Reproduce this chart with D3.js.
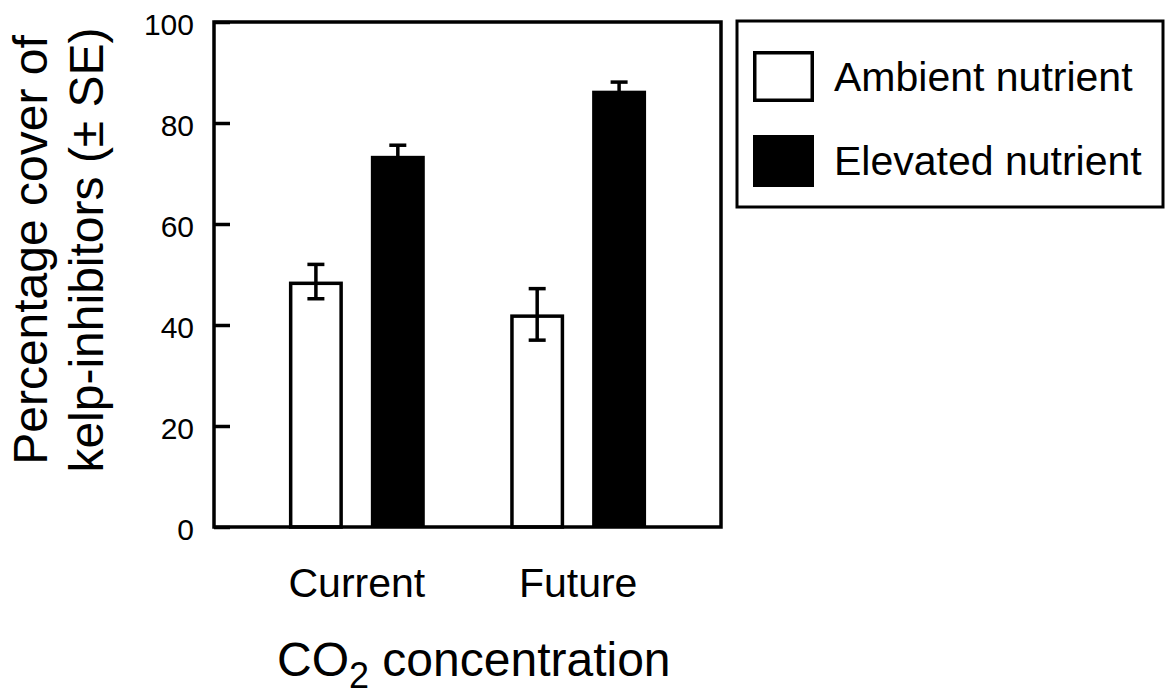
<!DOCTYPE html>
<html lang="en">

<head>
  <meta charset="utf-8">
  <title>Kelp inhibitors</title>
  <style>
    body {
      margin: 0;
      background: #fff;
    }

    svg text {
      font-family: "Liberation Sans", Arial, sans-serif;
      fill: #000;
    }

    .axis path {
      display: none;
    }

    .axis line {
      stroke: #000;
      stroke-width: 3.5;
    }
  </style>
</head>

<body>
  <div id="chart"></div>
</body>
<script src="https://d3js.org/d3.v7.min.js"></script>

<script>

  // data
  let co2Levels = ["Current", "Future"];
  let nutrients = ["Ambient nutrient", "Elevated nutrient"];
  let ambientMean = [48.6, 42.1];
  let ambientSE = [3.4, 5.1];
  let elevatedMean = [73.5, 86.4];
  let elevatedSE = [2.1, 1.7];
  let yTicks = [0, 20, 40, 60, 80, 100];

  let W = 1165, H = 695;
  let plotL = 214, plotR = 721, plotT = 22, plotB = 527;

  let svg = d3.select("#chart")
    .append("svg")
    .attr("width", W)
    .attr("height", H);

  let y = d3.scaleLinear().domain([0, 100]).range([plotB, plotT]);

  let x0 = d3.scaleBand()
    .domain(co2Levels)
    .range([plotL, plotR])
    .paddingInner(0.2596)
    .paddingOuter(0.2754);

  let x1 = d3.scaleBand()
    .domain(nutrients)
    .range([0, x0.bandwidth()])
    .paddingInner(0.3415)
    .paddingOuter(0.1707);

  let fills = { "Ambient nutrient": "#fff", "Elevated nutrient": "#000" };

  let rows = [];
  co2Levels.forEach((c, i) => {
    rows.push({ co2: c, nut: nutrients[0], mean: ambientMean[i], se: ambientSE[i] });
    rows.push({ co2: c, nut: nutrients[1], mean: elevatedMean[i], se: elevatedSE[i] });
  });

  // y axis, ticks pointing inward
  svg.append("g")
    .attr("class", "axis")
    .attr("transform", "translate(" + plotL + ",0)")
    .call(d3.axisLeft(y).tickValues(yTicks).tickSizeInner(-16).tickSizeOuter(0).tickPadding(20))
    .selectAll("text")
    .style("font-size", "30px")
    .attr("dy", "0.4em");

  let sw = 3.5;

  // bars
  svg.selectAll(".bar")
    .data(rows)
    .enter()
    .append("rect")
    .attr("class", "bar")
    .attr("x", (d) => {
      return x0(d.co2) + x1(d.nut) + (d.nut == nutrients[0] ? sw / 2 : 0)
    })
    .attr("width", (d) => { return x1.bandwidth() - (d.nut == nutrients[0] ? sw : 0) })
    .attr("y", (d) => { return y(d.mean) + (d.nut == nutrients[0] ? sw / 2 : 0) })
    .attr("height", (d) => { return y(0) - y(d.mean) - (d.nut == nutrients[0] ? sw / 2 : 0) })
    .attr("fill", (d) => { return fills[d.nut] })
    .attr("stroke", (d) => { return d.nut == nutrients[0] ? "#000" : "none" })
    .attr("stroke-width", sw);

  // error bars
  let capW = 17;
  let err = svg.selectAll(".err")
    .data(rows)
    .enter()
    .append("g")
    .attr("class", "err")
    .attr("stroke", "#000")
    .attr("stroke-width", 3.5);

  let cx = (d) => { return x0(d.co2) + x1(d.nut) + x1.bandwidth() / 2 };

  err.append("line")
    .attr("x1", cx).attr("x2", cx)
    .attr("y1", (d) => { return y(d.mean - d.se) })
    .attr("y2", (d) => { return y(d.mean + d.se) });

  err.append("line")
    .attr("x1", (d) => { return cx(d) - capW / 2 })
    .attr("x2", (d) => { return cx(d) + capW / 2 })
    .attr("y1", (d) => { return y(d.mean + d.se) })
    .attr("y2", (d) => { return y(d.mean + d.se) });

  err.append("line")
    .attr("x1", (d) => { return cx(d) - capW / 2 })
    .attr("x2", (d) => { return cx(d) + capW / 2 })
    .attr("y1", (d) => { return y(d.mean - d.se) })
    .attr("y2", (d) => { return y(d.mean - d.se) });

  // frame
  svg.append("rect")
    .attr("x", plotL)
    .attr("y", plotT)
    .attr("width", plotR - plotL)
    .attr("height", plotB - plotT)
    .attr("fill", "none")
    .attr("stroke", "#000")
    .attr("stroke-width", 3.5);

  // category labels
  svg.selectAll(".cat")
    .data(co2Levels)
    .enter()
    .append("text")
    .attr("class", "cat")
    .attr("x", (d) => { return x0(d) + x0.bandwidth() / 2 })
    .attr("y", 597)
    .attr("text-anchor", "middle")
    .style("font-size", "41px")
    .text((d) => { return d });

  // x title
  let xt = svg.append("text")
    .attr("x", 277)
    .attr("y", 676)
    .style("font-size", "48px");
  xt.append("tspan").text("CO");
  xt.append("tspan").attr("dy", 12).style("font-size", "36px").text("2");
  xt.append("tspan").attr("dy", -12).text(" concentration");

  // y title
  let yt = svg.append("text")
    .attr("transform", "translate(47,250) rotate(-90)")
    .attr("text-anchor", "middle")
    .style("font-size", "48px");
  yt.append("tspan").attr("x", 0).attr("y", 0).text("Percentage cover of");
  yt.append("tspan").attr("x", 0).attr("y", 56).text("kelp-inhibitors (\u00B1 SE)");

  // legend
  svg.append("rect")
    .attr("x", 737)
    .attr("y", 21)
    .attr("width", 426)
    .attr("height", 186)
    .attr("fill", "none")
    .attr("stroke", "#000")
    .attr("stroke-width", 3);

  let leg = svg.selectAll(".leg")
    .data(nutrients)
    .enter()
    .append("g")
    .attr("class", "leg")
    .attr("transform", (d, i) => { return "translate(753," + (51 + i * 84) + ")" });

  leg.append("rect")
    .attr("x", (d, i) => { return i == 0 ? sw / 2 : 0 })
    .attr("y", (d, i) => { return i == 0 ? sw / 2 : 0 })
    .attr("width", (d, i) => { return i == 0 ? 61 - sw : 61 })
    .attr("height", (d, i) => { return i == 0 ? 51 - sw : 52 })
    .attr("fill", (d) => { return fills[d] })
    .attr("stroke", (d, i) => { return i == 0 ? "#000" : "none" })
    .attr("stroke-width", sw);

  leg.append("text")
    .attr("x", 81)
    .attr("y", 40)
    .style("font-size", "41px")
    .text((d) => { return d });

</script>
</html>
